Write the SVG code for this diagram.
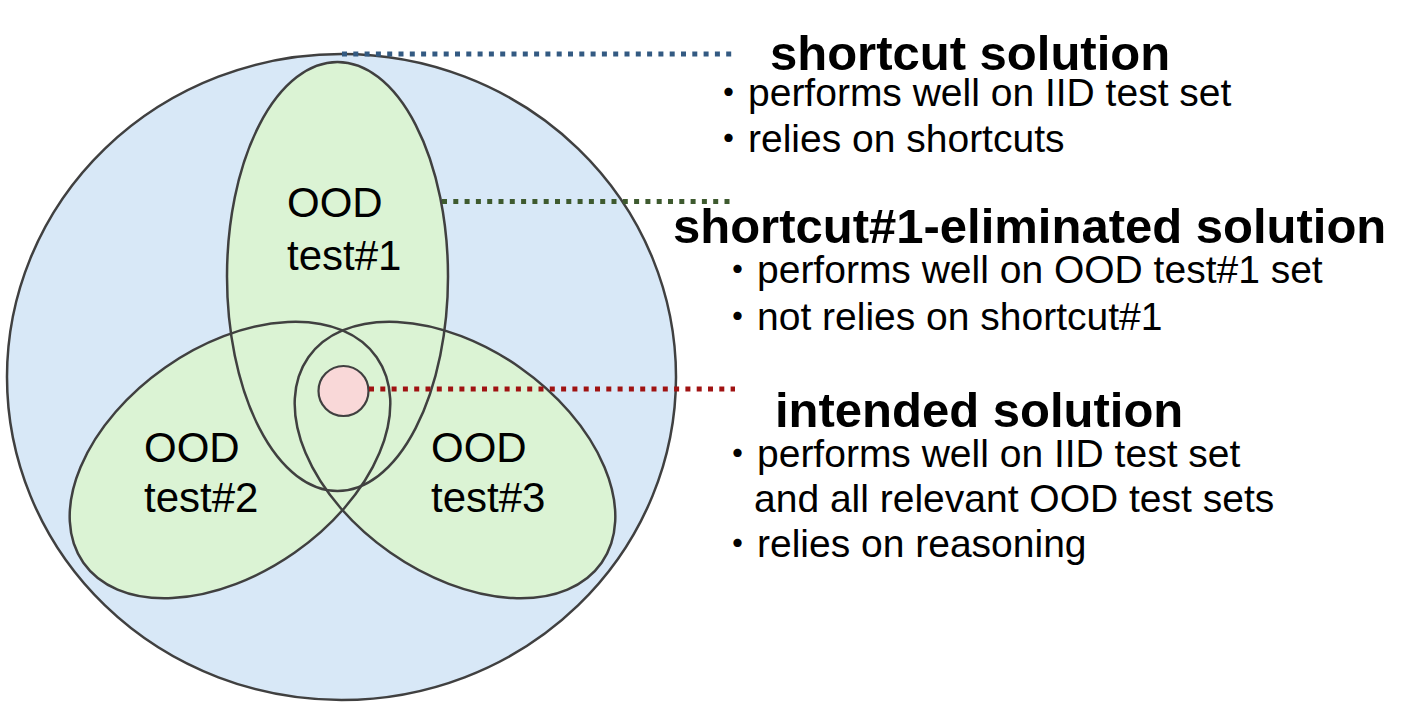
<svg xmlns="http://www.w3.org/2000/svg" width="1410" height="714" viewBox="0 0 1410 714">
<style>
.ol{fill:none;stroke:#404040;stroke-width:2.5}
.lbl{font-family:"Liberation Sans",Arial,sans-serif;font-size:42px;fill:#000}
.ttl{font-family:"Liberation Sans",Arial,sans-serif;font-size:49px;font-weight:bold;fill:#000}
.txt{font-family:"Liberation Sans","Noto Sans CJK JP",sans-serif;font-size:39px;fill:#000}
.dot{fill:none;stroke-width:5;stroke-dasharray:5 6.3}
</style>
<rect width="1410" height="714" fill="#ffffff"/>
<g id="fills">
<ellipse cx="341.5" cy="377" rx="334.5" ry="323" fill="#d8e8f7"/>
<ellipse cx="337.5" cy="276.5" rx="110.5" ry="214.5" fill="#dbf3d4"/>
<ellipse cx="0" cy="0" rx="179" ry="113" transform="translate(230 460) rotate(-35)" fill="#dbf3d4"/>
<ellipse cx="0" cy="0" rx="179" ry="113" transform="translate(455 460) rotate(35)" fill="#dbf3d4"/>
</g>
<g id="all-solutions">
<ellipse class="ol" cx="341.5" cy="377" rx="334.5" ry="323"/>
</g>
<g id="ood-test1">
<ellipse class="ol" cx="337.5" cy="276.5" rx="110.5" ry="214.5"/>
<text class="lbl" x="287" y="217">OOD</text>
<text class="lbl" x="287" y="270">test#1</text>
</g>
<g id="ood-test2">
<ellipse class="ol" cx="0" cy="0" rx="179" ry="113" transform="translate(230 460) rotate(-35)"/>
<text class="lbl" x="144" y="462">OOD</text>
<text class="lbl" x="144" y="512">test#2</text>
</g>
<g id="ood-test3">
<ellipse class="ol" cx="0" cy="0" rx="179" ry="113" transform="translate(455 460) rotate(35)"/>
<text class="lbl" x="431" y="462">OOD</text>
<text class="lbl" x="431" y="512">test#3</text>
</g>
<g id="intended">
<circle cx="343.5" cy="391" r="25" fill="#f9d8d8" stroke="#404040" stroke-width="2.2"/>
</g>
<g id="connectors">
<line class="dot" x1="342" y1="54" x2="733" y2="54" stroke="#335a82"/>
<line class="dot" x1="442" y1="201.5" x2="735" y2="201.5" stroke="#3e5a2f"/>
<line class="dot" x1="369" y1="389" x2="735" y2="389" stroke="#a01212"/>
</g>
<g id="shortcut-solution">
<text class="ttl" x="770" y="70">shortcut solution</text>
<text class="txt" x="709" y="106">・performs well on IID test set</text>
<text class="txt" x="709" y="152">・relies on shortcuts</text>
</g>
<g id="shortcut1-eliminated-solution">
<text class="ttl" x="673" y="243">shortcut#1-eliminated solution</text>
<text class="txt" x="718" y="283">・performs well on OOD test#1 set</text>
<text class="txt" x="718" y="330">・not relies on shortcut#1</text>
</g>
<g id="intended-solution">
<text class="ttl" x="775" y="427">intended solution</text>
<text class="txt" x="718" y="467">・performs well on IID test set</text>
<text class="txt" x="754" y="512">and all relevant OOD test sets</text>
<text class="txt" x="718" y="557">・relies on reasoning</text>
</g>
</svg>
